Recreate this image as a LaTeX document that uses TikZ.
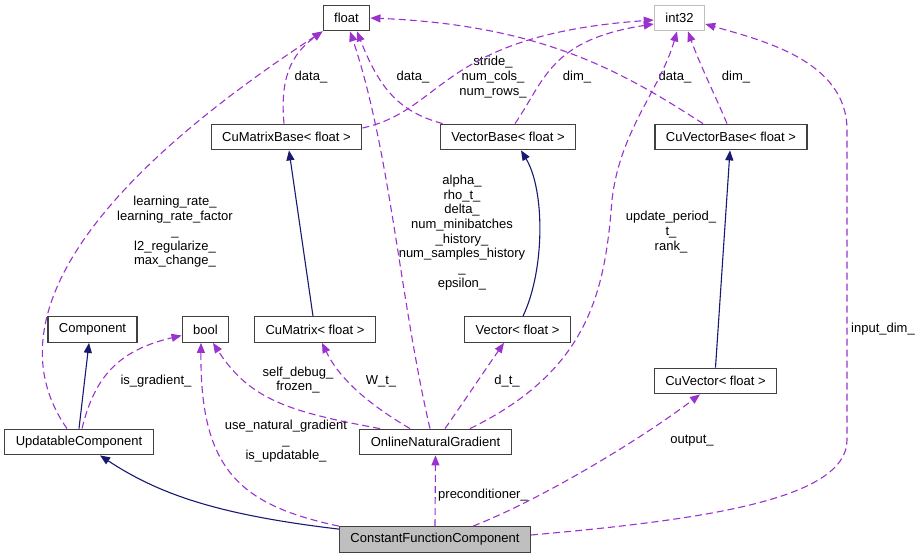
\documentclass[tikz,border=0pt]{standalone}
\usepackage{fontspec}
\setmainfont{Liberation Sans}
\usetikzlibrary{arrows.meta}
\definecolor{memcol}{HTML}{9A32CD}
\definecolor{inhcol}{HTML}{191970}
\definecolor{boxcol}{HTML}{404040}
\definecolor{greycol}{HTML}{BFBFBF}
\tikzset{
    cls/.style={draw=boxcol, line width=1.3pt, inner xsep=11pt, inner ysep=0pt, minimum height=25.5pt},
    mem/.style={draw=memcol, line width=1.1pt, dash pattern=on 7pt off 4pt, -{Triangle[length=10pt,width=8pt]}, fill=none},
    inh/.style={draw=inhcol, line width=1.1pt, -{Triangle[length=10pt,width=8pt]}},
    lbl/.style={align=center, inner sep=0pt}
}
\begin{document}
\begin{tikzpicture}[x=1pt, y=-1pt, font=\fontsize{13}{14.7}\selectfont]
                \useasboundingbox (0,0) rectangle (921,559);
                \node [cls] (float) at (346.5,18) {float};
                \node [cls, draw=greycol] (int32) at (679.5,18) {int32};
                \node [cls] (cumatbase) at (286.5,137) {CuMatrixBase< float >};
                \node [cls] (vecbase) at (508,137) {VectorBase< float >};
                \node [cls] (cuvecbase) at (731,137) {CuVectorBase< float >};
                \node [cls] (component) at (92.5,329.5) {Component};
                \node [cls] (bool) at (205.5,329.5) {bool};
                \node [cls] (cumat) at (315,329.5) {CuMatrix< float >};
                \node [cls] (vec) at (517.5,329.5) {Vector< float >};
                \node [cls] (cuvec) at (715.5,381) {CuVector< float >};
                \node [cls] (ucomp) at (79,442) {UpdatableComponent};
                \node [cls] (ong) at (435.5,442) {OnlineNaturalGradient};
                \node [cls, fill=greycol] (cfc) at (435,539.5) {ConstantFunctionComponent};
                \node [lbl] (lrate) at (175,232) {learning\_rate\_\\learning\_rate\_factor\\\_\\l2\_regularize\_\\max\_change\_};
                \node [lbl] (ldata1) at (311,77) {data\_};
                \node [lbl] (ldata2) at (413,77) {data\_};
                \node [lbl] (lstride) at (493,77) {stride\_\\num\_cols\_\\num\_rows\_};
                \node [lbl] (ldim1) at (577,77) {dim\_};
                \node [lbl] (ldata3) at (675,77) {data\_};
                \node [lbl] (ldim2) at (736,77) {dim\_};
                \node [lbl] (lalpha) at (462,232.5) {alpha\_\\rho\_t\_\\delta\_\\num\_minibatches\\\_history\_\\num\_samples\_history\\\_\\epsilon\_};
                \node [lbl] (lupdate) at (671,232) {update\_period\_\\t\_\\rank\_};
                \node [lbl] (linput) at (883,329) {input\_dim\_};
                \node [lbl] (lgrad) at (156,381) {is\_gradient\_};
                \node [lbl] (lself) at (298,380) {self\_debug\_\\frozen\_};
                \node [lbl] (lwt) at (381,381) {W\_t\_};
                \node [lbl] (ldt) at (507,381) {d\_t\_};
                \node [lbl] (lnat) at (286,441) {use\_natural\_gradient\\\_\\is\_updatable\_};
                \node [lbl] (lout) at (692,441) {output\_};
                \node [lbl] (lprec) at (483,495) {preconditioner\_};
                % inheritance
                \draw [inh] (ucomp.north) -- ([xshift=-3.5pt]component.south);
                \draw [inh] ([yshift=-3pt]cfc.north west) .. controls (220,515) and (160,495) .. ([xshift=21pt]ucomp.south);
                \draw [inh] ([xshift=-2pt]cumat.north) -- ([xshift=2.5pt]cumatbase.south);
                \draw [inh] ([xshift=5.5pt]vec.north) .. controls (545,270) and (545,190) .. ([xshift=13pt]vecbase.south);
                \draw [inh] (cuvec.north) -- ([xshift=-1pt]cuvecbase.south);
                % members: float
                \draw [mem] ([xshift=-12pt]ucomp.north) .. controls (5,340) and (50,210) .. (float.south west);
                \draw [mem] ([xshift=-2.5pt]cumatbase.north) .. controls (280,80) and (290,55) .. (float.south west);
                \draw [mem] ([xshift=3pt]vecbase.north west) .. controls (400,112) and (380,90) .. ([xshift=10.5pt]float.south);
                \draw [mem] ([xshift=-5.5pt]ong.north) .. controls (400,300) and (390,150) .. ([xshift=3.5pt]float.south);
                \draw [mem] ([xshift=-28pt]cuvecbase.north) .. controls (620,70) and (540,25) .. (float.east);
                % members: int32
                \draw [mem] ([yshift=9pt]cumatbase.east) .. controls (445,110) and (440,35) .. ([yshift=-2pt]int32.west);
                \draw [mem] ([xshift=7pt]vecbase.north) .. controls (545,80) and (550,40) .. ([yshift=-6pt]int32.west);
                \draw [mem] ([xshift=34.5pt]ong.north) .. controls (590,370) and (605,290) .. (612,200) .. controls (620,130) and (660,90) .. ([xshift=-2.5pt]int32.south);
                \draw [mem] ([xshift=-4pt]cuvecbase.north) .. controls (715,95) and (700,65) .. ([xshift=8.5pt]int32.south);
                \draw [mem] ([yshift=4.5pt]cfc.east) .. controls (700,520) and (847,500) .. (847,440) -- (847,130) .. controls (847,60) and (760,40) .. ([yshift=-6pt]int32.east);
                % members: bool
                \draw [mem] ([xshift=3pt]ucomp.north) .. controls (95,375) and (120,350) .. ([yshift=-6pt]bool.west);
                \draw [mem] ([xshift=-55.5pt]ong.north) .. controls (290,412) and (250,400) .. ([xshift=7.5pt]bool.south);
                \draw [mem] (cfc.north west) .. controls (240,505) and (200,470) .. ([xshift=-4.5pt]bool.south);
                % members: others
                \draw [mem] ([xshift=-25.5pt]ong.north) .. controls (370,405) and (340,380) .. ([xshift=7pt]cumat.south);
                \draw [mem] ([xshift=9.5pt]ong.north) .. controls (465,400) and (485,370) .. ([xshift=-13.5pt]vec.south);
                \draw [mem] ([xshift=38pt]cfc.north) .. controls (540,500) and (640,440) .. ([xshift=-15.5pt]cuvec.south);
                \draw [mem] (cfc.north) -- (ong.south);
            \end{tikzpicture}
\end{document}
